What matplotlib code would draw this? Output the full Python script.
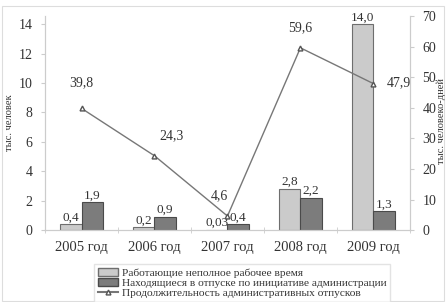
import matplotlib
matplotlib.use("Agg")
import matplotlib.pyplot as plt
from matplotlib.patches import Rectangle, Patch
from matplotlib.lines import Line2D
import numpy as np

plt.rcParams['font.family'] = 'serif'
plt.rcParams['font.serif'] = ['Liberation Serif', 'Times New Roman', 'DejaVu Serif']

categories = ["2005 год", "2006 год", "2007 год", "2008 год", "2009 год"]
part_time = [0.4, 0.2, 0.03, 2.8, 14.0]
admin_leave = [1.9, 0.9, 0.4, 2.2, 1.3]
duration = [39.8, 24.3, 4.6, 59.6, 47.9]
part_time_labels = ["0,4", "0,2", "0,03", "2,8", "14,0"]
admin_leave_labels = ["1,9", "0,9", "0,4", "2,2", "1,3"]
duration_labels = ["39,8", "24,3", "4,6", "59,6", "47,9"]
left_ticks = [0, 2, 4, 6, 8, 10, 12, 14]
right_ticks = [0, 10, 20, 30, 40, 50, 60, 70]

light = "#cbcbcb"
dark = "#7c7c7c"
edge_l = "#6e6e6e"
edge_d = "#4a4a4a"
txt = "#333333"
axc = "#cccccc"

fig = plt.figure(figsize=(4.46, 3.02), dpi=100)
fig.patches.append(Rectangle((0.004, 0.004), 0.992, 0.975, transform=fig.transFigure,
                             fill=False, edgecolor="#dddddd", linewidth=0.8))
ax = fig.add_axes([0.101, 0.238, 0.818, 0.709])
ax2 = ax.twinx()

x = np.arange(len(categories))
w = 0.29
ax.bar(x - w / 2, part_time, w, color=light, edgecolor=edge_l, linewidth=0.8, zorder=2)
ax.bar(x + w / 2, admin_leave, w, color=dark, edgecolor=edge_d, linewidth=0.8, zorder=2)

ax.set_xlim(-0.5, 4.5)
ax.set_ylim(0, 14.56)
ax2.set_ylim(0, 70)
ax.set_yticks(left_ticks)
ax2.set_yticks(right_ticks)
ax.set_xticks(x)
ax.set_xticklabels(categories, fontsize=10.5, color=txt)
ax.set_xticks(np.arange(-0.5, 5, 1), minor=True)
ax.tick_params(axis='x', which='major', length=0, pad=8)
ax.tick_params(axis='x', which='minor', length=4, direction='inout', color=axc)
ax.tick_params(axis='y', length=3, color=axc, labelsize=10, labelcolor=txt, pad=6)
ax2.tick_params(axis='y', length=3, color=axc, labelsize=10, labelcolor=txt, pad=6)

for a in (ax, ax2):
    a.spines['top'].set_visible(False)
    for s in ('left', 'right', 'bottom'):
        a.spines[s].set_color(axc)
        a.spines[s].set_linewidth(0.8)

ax2.plot(x, duration, color="#777777", linewidth=1.0, marker='^', markersize=3.5,
         markerfacecolor='white', markeredgecolor="#555555", zorder=3)

for i in range(len(categories)):
    ax.text(x[i] - w / 2, part_time[i] + 0.05, part_time_labels[i], ha='center', va='bottom',
            fontsize=9.5, color=txt, zorder=4)
    ax.text(x[i] + w / 2, admin_leave[i] + 0.05, admin_leave_labels[i], ha='center', va='bottom',
            fontsize=9.5, color=txt, zorder=4)

offsets = [(0, 14), (12, 10), (-6, 10), (0, 10), (18, -4)]
for i in range(len(categories)):
    dx, dy = offsets[i]
    ax2.annotate(duration_labels[i], (x[i], duration[i]), xytext=(dx, dy),
                 textcoords='offset points', ha='center', va='bottom', fontsize=10, color=txt)

ax.set_ylabel("тыс. человек", fontsize=7.5, color=txt)
ax.yaxis.set_label_coords(-0.085, 0.5)
fig.text(0.99, 0.6, "тыс. человеко-дней", rotation=90, fontsize=7.5, color=txt,
         ha='center', va='center')

handles = [Patch(facecolor=light, edgecolor=edge_l, label="Работающие неполное рабочее время"),
           Patch(facecolor=dark, edgecolor=edge_d, label="Находящиеся в отпуске по инициативе администрации"),
           Line2D([0], [0], color="#777777", marker='^', markersize=3.5, markerfacecolor='white',
                  markeredgecolor="#555555", label="Продолжительность административных отпусков")]
leg = fig.legend(handles=handles, loc='lower center', bbox_to_anchor=(0.543, 0.0), ncol=1,
                 fontsize=8.2, frameon=True, fancybox=False, edgecolor="#dddddd",
                 handlelength=1.8, handleheight=0.7, handletextpad=0.3, labelspacing=0.0,
                 borderpad=0.35, borderaxespad=0.0)
for t in leg.get_texts():
    t.set_color(txt)

fig.savefig("out.png", dpi=100)
